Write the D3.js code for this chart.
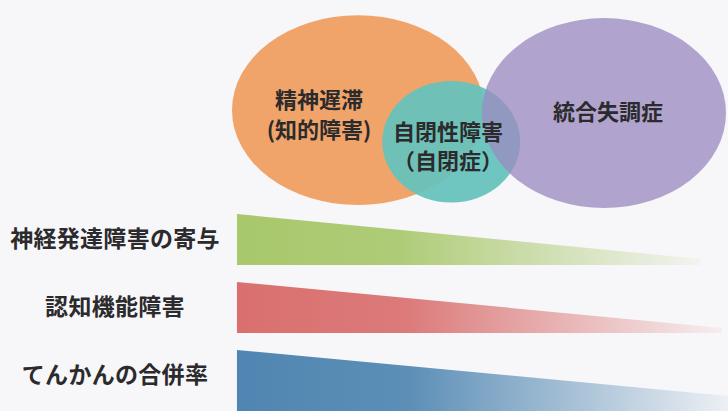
<!DOCTYPE html>
<html>
<head>
<meta charset="utf-8">
<script src="https://cdn.jsdelivr.net/npm/d3@7/dist/d3.min.js"></script>
<style>
  html, body { margin: 0; padding: 0; background: #f7f6f8; }
  svg { display: block; }
  text { font-family: "Noto Sans CJK JP", "Noto Sans", sans-serif; fill: #2b2a2c; }
</style>
</head>
<body>
<script>
// ---------- DATA ----------
// disorders placed along the spectrum (0 = left, 100 = right)
var disorders = ["精神遅滞", "自閉性障害", "統合失調症"];
var disorderSub = ["(知的障害)", "（自閉症）", ""];
var disorderPos = [25.4, 44.2, 75.0];     // spectrum position (x)
var disorderSpread = [25.4, 13.9, 24.6];  // half width on spectrum
var disorderLevel = [26.8, 34.5, 27.5];   // vertical level
var disorderHeight = [23.1, 14.8, 23.1];  // half height

// gradient wedges: magnitude at start and end of the spectrum
var factors = ["神経発達障害の寄与", "認知機能障害", "てんかんの合併率"];
var factorStart = [100, 100, 137];
var factorEnd = [12, 10, 47];
var factorEndPos = [94.4, 98.8, 100];

// ---------- DIMENSIONS ----------
var w = 728, h = 411;
var colors = ["#f1a46a", "#66c2bc", "#9c8cc0"];
var opac = [1, 0.94, 0.78];
var wedgeColors = ["#a8c86c", "#d9706f", "#4f86b1"];

var x = d3.scaleLinear().domain([0, 100]).range([232, 728]);
var y = d3.scaleLinear().domain([0, 100]).range([0, 411]);
var thick = d3.scaleLinear().domain([0, 100]).range([0, 51]);
var row = d3.scaleBand().domain(factors).range([214, 418]);

var svg = d3.select("body").append("svg")
  .attr("width", w)
  .attr("height", h);

svg.append("rect").attr("width", w).attr("height", h).attr("fill", "#f7f6f8");

// ---------- GRADIENTS ----------
var defs = svg.append("defs");
wedgeColors.forEach(function (c, i) {
  var g = defs.append("linearGradient")
    .attr("id", "grad" + i)
    .attr("gradientUnits", "userSpaceOnUse")
    .attr("x1", x(1)).attr("x2", x(factorEndPos[i]))
    .attr("y1", 0).attr("y2", 0);
  g.append("stop").attr("offset", "0%").attr("stop-color", c).attr("stop-opacity", 1);
  g.append("stop").attr("offset", "35%").attr("stop-color", c).attr("stop-opacity", 0.92);
  g.append("stop").attr("offset", "100%").attr("stop-color", c).attr("stop-opacity", 0.06);
});

// ---------- WEDGES ----------
factors.forEach(function (f, i) {
  var top = row(f);
  var bottom = top + thick(factorStart[i]);
  var x0 = x(1), x1 = x(factorEndPos[i]);
  var pts = [
    [x0, top],
    [x1, bottom - thick(factorEnd[i])],
    [x1, bottom],
    [x0, bottom]
  ];
  svg.append("path")
    .attr("d", d3.line()(pts) + "Z")
    .attr("fill", "url(#grad" + i + ")");

  svg.append("text")
    .text(f)
    .attr("x", 115)
    .attr("y", top + 25)
    .attr("dy", "0.35em")
    .attr("text-anchor", "middle")
    .attr("font-size", "23px")
    .attr("font-weight", "bold")
    .attr("letter-spacing", "0.3px");
});

// ---------- ELLIPSES ----------
disorders.forEach(function (d, i) {
  svg.append("ellipse")
    .attr("cx", x(disorderPos[i]))
    .attr("cy", y(disorderLevel[i]))
    .attr("rx", x(disorderSpread[i]) - x(0))
    .attr("ry", y(disorderHeight[i]))
    .attr("fill", colors[i])
    .attr("fill-opacity", opac[i]);
});

// labels
var labelPos = [[319, 100, 130], [448, 132, 161], [608, 112, 0]];
disorders.forEach(function (d, i) {
  svg.append("text")
    .text(d)
    .attr("x", labelPos[i][0])
    .attr("y", labelPos[i][1])
    .attr("dy", "0.35em")
    .attr("text-anchor", "middle")
    .attr("font-size", "22px")
    .attr("font-weight", "bold");
  if (disorderSub[i]) {
    svg.append("text")
      .text(disorderSub[i])
      .attr("x", labelPos[i][0])
      .attr("y", labelPos[i][2])
      .attr("dy", "0.35em")
      .attr("text-anchor", "middle")
      .attr("font-size", "22px")
      .attr("font-weight", "bold");
  }
});
</script>
</body>
</html>
